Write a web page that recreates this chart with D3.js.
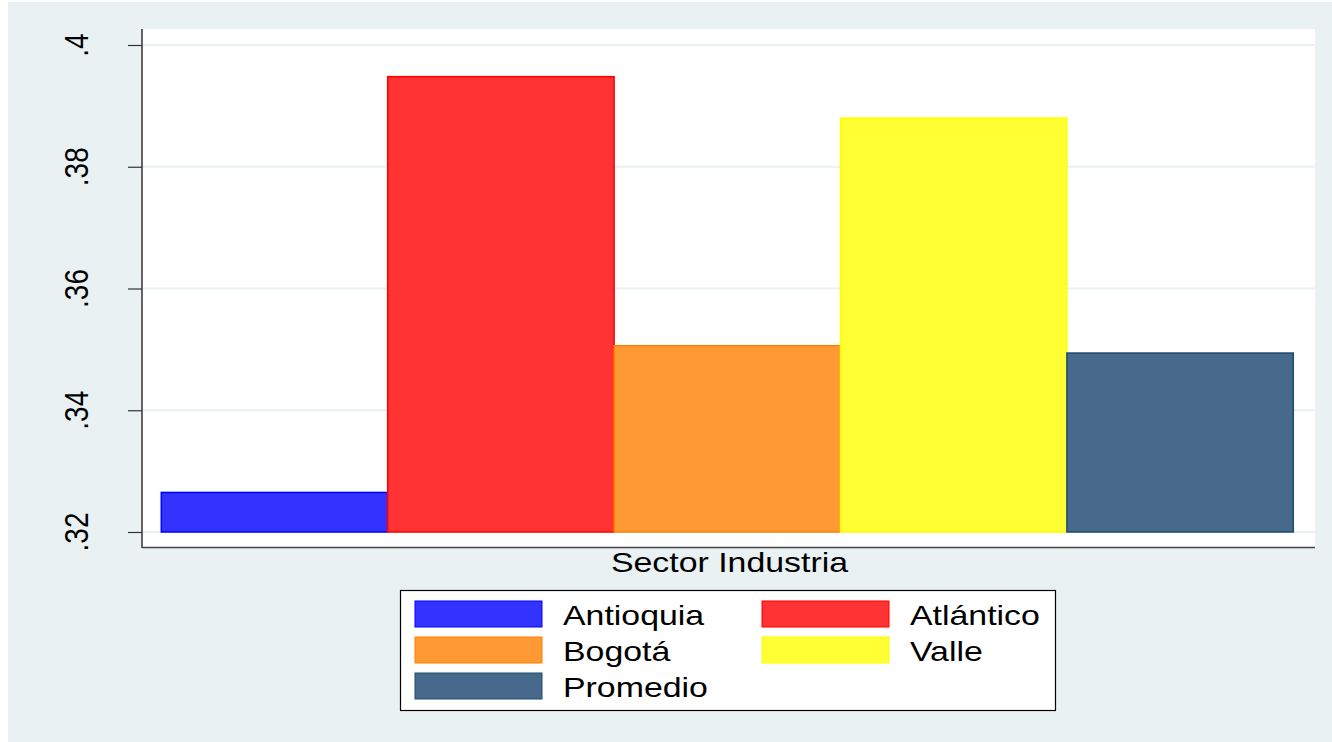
<!DOCTYPE html>
<html>
<head>
<meta charset="utf-8">
<script src="https://cdn.jsdelivr.net/npm/d3@7"></script>
<style>
  body { margin: 0; background: #ffffff; }
  text { font-family: "Liberation Sans", Arial, sans-serif; fill: #000; }
</style>
</head>
<body>
<div id="chart"></div>
<script>
var categories = ["Antioquia", "Atlántico", "Bogotá", "Valle", "Promedio"]
var values = [0.3265, 0.3948, 0.3506, 0.3880, 0.3494]
var fills = ["#3333ff", "#ff3333", "#ff9933", "#ffff33", "#476a8c"]
var strokes = ["#0000ff", "#ff0000", "#ff8000", "#ffff00", "#1e4a6e"]
var yTicks = [0.32, 0.34, 0.36, 0.38, 0.40]
var yTickLabels = [".32", ".34", ".36", ".38", ".4"]
var xTitle = "Sector Industria"

var width = 1332
    height = 742
    stretch = 1.21   // the original picture is a bit wider than tall text would be

var svg = d3.select("#chart")
  .append("svg")
    .attr("width", width)
    .attr("height", height)

// outer graph region
svg.append("rect")
  .attr("x", 8).attr("y", 2)
  .attr("width", width - 8).attr("height", height - 2)
  .attr("fill", "#e9f1f3")

// plot region
var plot = {left: 142, right: 1315, top: 29, bottom: 548}
svg.append("rect")
  .attr("x", plot.left).attr("y", plot.top)
  .attr("width", plot.right - plot.left).attr("height", plot.bottom - plot.top)
  .attr("fill", "#ffffff")

var y = d3.scaleLinear()
  .domain([0.32, 0.40])
  .range([532, 45])

var x = d3.scaleBand()
  .domain(categories)
  .range([161.3, 1293.3])
  .padding(0)

// gridlines
svg.selectAll(".grid")
  .data(yTicks)
  .enter().append("line")
    .attr("class", "grid")
    .attr("x1", plot.left).attr("x2", plot.right)
    .attr("y1", function(d) { return y(d) })
    .attr("y2", function(d) { return y(d) })
    .attr("stroke", "#e9f1f3")
    .attr("stroke-width", 2)

// bars
svg.selectAll(".bar")
  .data(categories)
  .enter().append("rect")
    .attr("class", "bar")
    .attr("x", function(d) { return x(d) })
    .attr("width", x.bandwidth())
    .attr("y", function(d, i) { return y(values[i]) })
    .attr("height", function(d, i) { return y(0.32) - y(values[i]) })
    .attr("fill", function(d, i) { return fills[i] })
    .attr("stroke", function(d, i) { return strokes[i] })
    .attr("stroke-width", 1.5)

// y axis
var yAxis = d3.axisLeft(y)
  .tickValues(yTicks)
  .tickSize(14)
  .tickFormat("")
var ga = svg.append("g")
  .attr("transform", "translate(" + plot.left + ",0)")
  .call(yAxis)
ga.select(".domain").remove()
ga.selectAll(".tick line").attr("stroke", "#333").attr("stroke-width", 1.2)
svg.append("line")
  .attr("x1", plot.left).attr("x2", plot.left)
  .attr("y1", plot.top).attr("y2", plot.bottom)
  .attr("stroke", "#333").attr("stroke-width", 1.5)

// rotated tick labels
svg.selectAll(".ylab")
  .data(yTicks)
  .enter().append("text")
    .attr("class", "ylab")
    .attr("transform", function(d) { return "translate(88," + y(d) + ") scale(" + stretch + ",1) rotate(-90)" })
    .attr("text-anchor", "middle")
    .style("font-size", "28px")
    .text(function(d, i) { return yTickLabels[i] })

// x axis line
svg.append("line")
  .attr("x1", plot.left).attr("x2", plot.right)
  .attr("y1", plot.bottom - 0.5).attr("y2", plot.bottom - 0.5)
  .attr("stroke", "#444").attr("stroke-width", 1.5)

svg.append("text")
  .attr("transform", "translate(729.5,572) scale(" + stretch + ",1)")
  .attr("text-anchor", "middle")
  .style("font-size", "28px")
  .text(xTitle)

// legend
var legend = svg.append("g")
legend.append("rect")
  .attr("x", 400.5).attr("y", 590.5)
  .attr("width", 655).attr("height", 120)
  .attr("fill", "#ffffff")
  .attr("stroke", "#000").attr("stroke-width", 1.2)

var colX = [415, 762]
    rowY = [601, 637, 673]
categories.forEach(function(c, i) {
  var cx = colX[i % 2]
  var ry = rowY[Math.floor(i / 2)]
  legend.append("rect")
    .attr("x", cx).attr("y", ry)
    .attr("width", 127).attr("height", 26)
    .attr("fill", fills[i])
    .attr("stroke", strokes[i])
    .attr("stroke-width", 1)
  legend.append("text")
    .attr("transform", "translate(" + (cx + 148) + "," + (ry + 24) + ") scale(" + stretch + ",1)")
    .style("font-size", "28px")
    .text(c)
})
</script>
</body>
</html>
